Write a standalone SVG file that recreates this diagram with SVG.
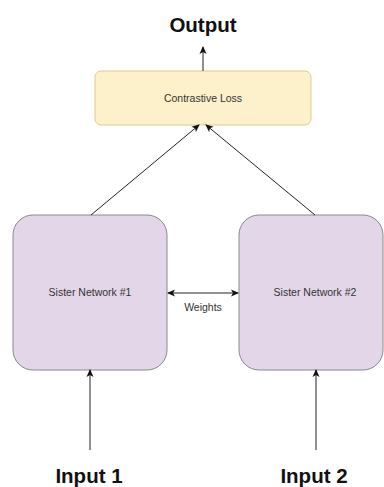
<svg xmlns="http://www.w3.org/2000/svg" width="384" height="487" viewBox="0 0 384 487">
<style>
.t{font-family:"Liberation Sans",Arial,sans-serif;fill:#333;text-anchor:middle;font-size:10.5px}
.b{font-family:"Liberation Sans",Arial,sans-serif;font-weight:bold;fill:#111;text-anchor:middle;font-size:20.5px}
.c{stroke:#222;stroke-width:1;fill:none}
.sis{fill:#e3d6e9;stroke:#8a8a8a;stroke-width:1}
</style>
<defs>
<marker id="ah" markerWidth="8" markerHeight="8" refX="7" refY="4" orient="auto-start-reverse" markerUnits="userSpaceOnUse">
<path d="M0,0.5 L8,4 L0,7.5 L2,4 Z" fill="#111"/>
</marker>
</defs>
<rect width="384" height="487" fill="#fff"/>
<g id="output"><text class="b" x="203" y="32">Output</text></g>
<g id="loss">
<rect x="95" y="71" width="216" height="54" rx="6" fill="#fdf1cb" stroke="#dfcb8e" stroke-width="1"/>
<text class="t" x="203" y="102">Contrastive Loss</text>
</g>
<g id="sister1">
<rect class="sis" x="13" y="215" width="154" height="155" rx="20"/>
<text class="t" x="90" y="296">Sister Network #1</text>
</g>
<g id="sister2">
<rect class="sis" x="239" y="215" width="144" height="155" rx="20"/>
<text class="t" x="315" y="296">Sister Network #2</text>
</g>
<g id="input1"><text class="b" x="89" y="483">Input 1</text></g>
<g id="input2"><text class="b" x="314" y="483">Input 2</text></g>
<g id="weights"><text class="t" x="203" y="311">Weights</text></g>
<g id="connectors">
<line class="c" x1="203" y1="71" x2="203" y2="47" marker-end="url(#ah)"/>
<line class="c" x1="91" y1="215" x2="199" y2="125" marker-end="url(#ah)"/>
<line class="c" x1="315" y1="215" x2="206" y2="125" marker-end="url(#ah)"/>
<line class="c" x1="168" y1="293" x2="238" y2="293" marker-start="url(#ah)" marker-end="url(#ah)"/>
<line class="c" x1="90" y1="450" x2="90" y2="370" marker-end="url(#ah)"/>
<line class="c" x1="316" y1="450" x2="316" y2="370" marker-end="url(#ah)"/>
</g>
</svg>
